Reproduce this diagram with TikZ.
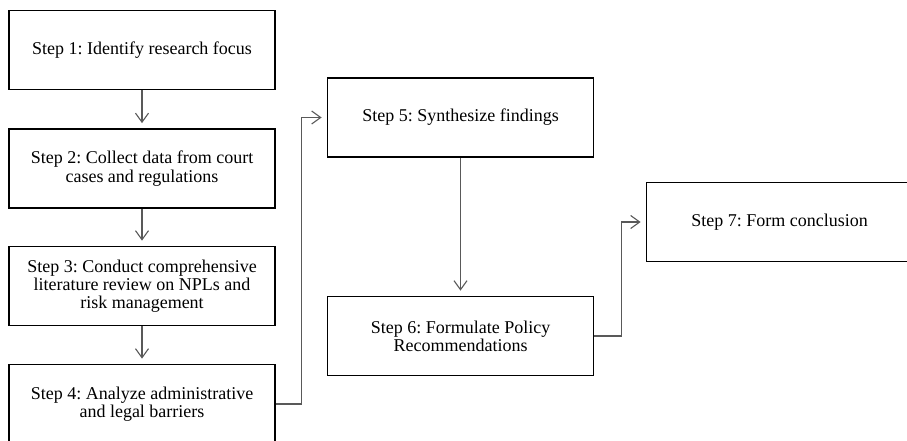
\documentclass[tikz,border=0pt]{standalone}
\usepackage{fontspec}
\setmainfont{Liberation Serif}
\usetikzlibrary{arrows.meta}
\tikzset{
        stepbox/.style={draw, line width=1.8pt, minimum width=266pt,
          minimum height=79pt, inner sep=0pt, align=center,
          font=\fontsize{18}{18.2}\selectfont},
        link/.style={draw=black!65, line width=1.1pt,
          -{Straight Barb[length=9pt,width=13pt]}, shorten >=5pt}
    }
\frenchspacing

\begin{document}
\begin{tikzpicture}[x=1pt,y=-1pt]
\useasboundingbox (0,0) rectangle (907,440);

\draw (142,50) node(FOCUS)[stepbox]{Step 1: Identify research focus};
\draw (142,168.5) node(DATA)[stepbox]{Step 2: Collect data from court\\cases and regulations};
\draw (142,286) node(REVIEW)[stepbox]{Step 3: Conduct comprehensive\\literature review on NPLs and\\risk management};
\draw (142,404) node(BARRIERS)[stepbox]{Step 4: Analyze administrative\\and legal barriers};

\draw (460.5,117.5) node(SYNTH)[stepbox]{Step 5: Synthesize findings};
\draw (460.5,336) node(POLICY)[stepbox]{Step 6: Formulate Policy\\Recommendations};

\draw (779.5,222) node(CONCL)[stepbox]{Step 7: Form conclusion};

\draw[link] (FOCUS) -- (DATA);
\draw[link] (DATA) -- (REVIEW);
\draw[link] (REVIEW) -- (BARRIERS);
\draw[link] (BARRIERS.east) -- ++(26,0) |- (SYNTH.west);
\draw[link] (SYNTH) -- (POLICY);
\draw[link] (POLICY.east) -- ++(27,0) |- (CONCL.west);

\end{tikzpicture}
\end{document}
